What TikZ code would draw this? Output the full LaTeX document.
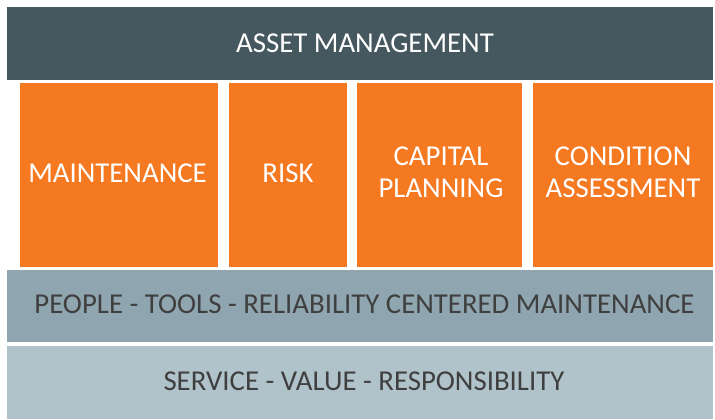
\documentclass[tikz,border=0pt]{standalone}
\usepackage{fontspec}
\setmainfont{Carlito}
\definecolor{darkbar}{HTML}{46585F}
\definecolor{orng}{HTML}{F47920}
\definecolor{midbar}{HTML}{8FA6B1}
\definecolor{lightbar}{HTML}{B1C3CA}
\definecolor{txtgray}{HTML}{3F3F3F}
\begin{document}
\begin{tikzpicture}[x=1pt,y=-1pt,
  lbl/.style={font=\fontsize{28.8}{32}\selectfont,align=center,inner sep=0pt}]
\useasboundingbox[fill=white] (0,0) rectangle (715,420);
\fill[darkbar] (7,7) rectangle (713,80);
\node[lbl,text=white] (am) at (365,43.5) {ASSET MANAGEMENT};
\fill[orng] (19.5,83) rectangle (218,266.5);
\fill[orng] (229.3,83) rectangle (347.3,266.5);
\fill[orng] (357,83) rectangle (522,266.5);
\fill[orng] (533.3,83) rectangle (712.7,266.5);
\node[lbl,text=white] (m) at (117.5,173) {MAINTENANCE};
\node[lbl,text=white] (r) at (288,173) {RISK};
\node[lbl,text=white] (cp) at (441,172.5) {CAPITAL\\PLANNING};
\node[lbl,text=white] (ca) at (623,172.5) {CONDITION\\ASSESSMENT};
\fill[midbar] (7,270) rectangle (713,342.3);
\node[lbl,text=txtgray] (p) at (364.5,304) {PEOPLE - TOOLS - RELIABILITY CENTERED MAINTENANCE};
\fill[lightbar] (7,346) rectangle (713,419);
\node[lbl,text=txtgray] (s) at (364,381) {SERVICE - VALUE - RESPONSIBILITY};
\end{tikzpicture}
\end{document}
